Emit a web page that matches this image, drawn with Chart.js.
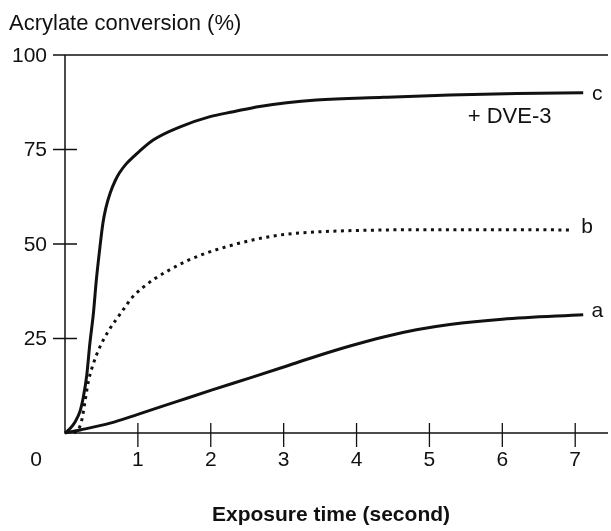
<!DOCTYPE html>
<html>
<head>
<meta charset="utf-8">
<script src="https://cdn.jsdelivr.net/npm/chart.js@4/dist/chart.umd.min.js"></script>
<style>
  body { margin: 0; background: #fff; }
  canvas { display: block; }
</style>
</head>
<body>
<canvas id="my-chart" width="611" height="531"></canvas>
<script>
const FONT = '"Liberation Sans", Arial, Helvetica, sans-serif';

// exposure time (s) / acrylate conversion (%)
const timeC = [0, 0.07, 0.14, 0.21, 0.25, 0.30, 0.34, 0.39, 0.43, 0.48, 0.52, 0.56, 0.62, 0.69, 0.75, 0.84, 0.94, 1.21, 1.58, 1.99, 2.31, 2.67, 3.45, 4.37, 5.28, 6.2, 7.11];
const convC = [0, 1.2, 3.0, 6.0, 9.3, 15.5, 23.5, 31.7, 40.5, 49.3, 55.5, 59.5, 63.5, 66.8, 68.9, 71.2, 73.1, 77.5, 81.0, 83.7, 85.0, 86.4, 88.1, 88.8, 89.4, 89.8, 90.0];

const timeB = [0.12, 0.18, 0.23, 0.27, 0.32, 0.39, 0.47, 0.59, 0.78, 0.91, 1.07, 1.23, 1.42, 1.67, 1.94, 2.22, 2.63, 3.0, 3.45, 4.37, 5.28, 6.2, 6.97];
const convB = [0, 0.8, 3.4, 7.8, 13.6, 18.4, 22.4, 26.8, 32.1, 35.6, 38.5, 40.8, 43.0, 45.5, 47.6, 49.3, 51.3, 52.5, 53.2, 53.7, 53.8, 53.8, 53.7];

const timeA = [0, 0.21, 0.62, 1.01, 1.53, 2.02, 2.54, 2.99, 3.45, 3.91, 4.37, 4.82, 5.28, 6.0, 7.11];
const convA = [0, 0.8, 2.6, 5.0, 8.3, 11.4, 14.6, 17.4, 20.3, 23.0, 25.4, 27.3, 28.7, 30.1, 31.3];

const xTicks = [1, 2, 3, 4, 5, 6, 7];
const yTicks = [25, 50, 75, 100];
const curveNames = ["c", "b", "a"];

function toPoints(xs, ys) {
  let data = [];
  for (let i = 0; i < xs.length; i++) {
    data.push({ x: xs[i], y: ys[i] });
  }
  return data;
}

const axesPlugin = {
  id: "paperAxes",
  afterDraw(chart) {
    const c = chart.ctx;
    const xs = chart.scales.x;
    const ys = chart.scales.y;
    const x0 = xs.getPixelForValue(0);
    const y0 = ys.getPixelForValue(0);
    const yTop = ys.getPixelForValue(100);
    const right = chart.chartArea.right;

    c.save();
    c.strokeStyle = "#111";
    c.lineWidth = 1.5;
    c.beginPath();
    c.moveTo(x0, yTop);
    c.lineTo(x0, y0);
    c.lineTo(right, y0);
    c.moveTo(x0, yTop);
    c.lineTo(right, yTop);
    c.stroke();

    c.lineWidth = 1.3;
    c.beginPath();
    xTicks.forEach((v) => {
      const px = xs.getPixelForValue(v);
      c.moveTo(px, y0 - 10);
      c.lineTo(px, y0 + 14);
    });
    yTicks.forEach((v) => {
      const py = ys.getPixelForValue(v);
      c.moveTo(x0 - 12, py);
      c.lineTo(v === 100 ? x0 : x0 + 12, py);
    });
    c.stroke();

    c.fillStyle = "#111";
    c.font = "21px " + FONT;
    c.textBaseline = "middle";
    c.textAlign = "center";
    xTicks.forEach((v) => {
      c.fillText(String(v), xs.getPixelForValue(v), y0 + 27);
    });
    c.fillText("0", x0 - 29, y0 + 27);
    c.textAlign = "right";
    yTicks.forEach((v) => {
      c.fillText(String(v), x0 - 18, ys.getPixelForValue(v) + 1);
    });

    // curve labels at the end of each line
    c.textAlign = "center";
    chart.data.datasets.forEach((ds, i) => {
      const last = ds.data[ds.data.length - 1];
      const px = xs.getPixelForValue(last.x);
      const py = ys.getPixelForValue(last.y);
      c.fillText(curveNames[i], px + 14, py + (i === 0 ? 1 : -3));
    });
    c.font = "22px " + FONT;
    c.fillText("+ DVE-3", xs.getPixelForValue(6.1), ys.getPixelForValue(83.5));

    c.textAlign = "left";
    c.font = "22px " + FONT;
    c.fillText("Acrylate conversion (%)", 9, 24);
    c.font = "bold 21px " + FONT;
    c.textAlign = "center";
    c.fillText("Exposure time (second)", 331, 515);
    c.restore();
  },
};

const ctx = document.getElementById("my-chart");

new Chart(ctx, {
  type: "scatter",
  data: {
    datasets: [
      {
        label: "c",
        data: toPoints(timeC, convC),
        showLine: true,
        borderColor: "#111",
        borderWidth: 3,
        pointRadius: 0,
        cubicInterpolationMode: "monotone",
        clip: 6,
      },
      {
        label: "b",
        data: toPoints(timeB, convB),
        showLine: true,
        borderColor: "#111",
        borderWidth: 3,
        borderDash: [3, 4.5],
        borderCapStyle: "butt",
        pointRadius: 0,
        cubicInterpolationMode: "monotone",
        clip: 6,
      },
      {
        label: "a",
        data: toPoints(timeA, convA),
        showLine: true,
        borderColor: "#111",
        borderWidth: 3,
        pointRadius: 0,
        cubicInterpolationMode: "monotone",
        clip: 6,
      },
    ],
  },
  options: {
    responsive: false,
    animation: false,
    events: [],
    layout: {
      padding: { left: 65, top: 55, right: 3, bottom: 98 },
    },
    plugins: {
      legend: { display: false },
      tooltip: { enabled: false },
    },
    scales: {
      x: { type: "linear", min: 0, max: 7.45, display: false },
      y: { type: "linear", min: 0, max: 100, display: false },
    },
  },
  plugins: [axesPlugin],
});
</script>
</body>
</html>
